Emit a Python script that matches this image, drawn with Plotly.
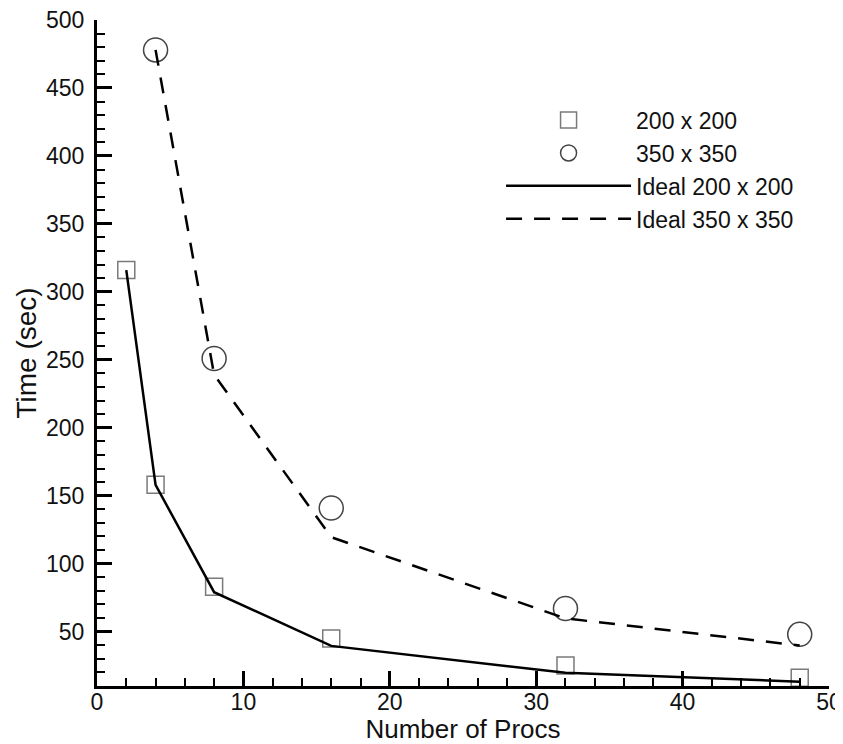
import plotly.graph_objects as go

# measured run times
procs_200 = [2, 4, 8, 16, 32, 48]
time_200 = [316, 158, 83, 45, 25, 16]
procs_350 = [4, 8, 16, 32, 48]
time_350 = [478, 251, 141, 67, 48]

# ideal scaling curves
ideal_procs_200 = [2, 4, 8, 16, 32, 48]
ideal_time_200 = [316, 158, 79, 39.5, 19.75, 13.2]
ideal_procs_350 = [4, 8, 16, 32, 48]
ideal_time_350 = [478, 239, 119.5, 59.75, 39.8]

font = "Liberation Sans, Arial, Helvetica, sans-serif"

fig = go.Figure()
fig.add_trace(go.Scatter(
    x=procs_200, y=time_200, mode="markers", name="200 x 200",
    marker=dict(symbol="square-open", size=17, color="#7a7a7a", line=dict(width=1.5)),
))
fig.add_trace(go.Scatter(
    x=procs_350, y=time_350, mode="markers", name="350 x 350",
    marker=dict(symbol="circle-open", size=24, color="#444444", line=dict(width=1.5)),
))
fig.add_trace(go.Scatter(
    x=ideal_procs_200, y=ideal_time_200, mode="lines", name="Ideal 200 x 200",
    line=dict(color="black", width=2.5),
))
fig.add_trace(go.Scatter(
    x=ideal_procs_350, y=ideal_time_350, mode="lines", name="Ideal 350 x 350",
    line=dict(color="black", width=2.5, dash="16px,12px"),
))

# page body adds ~8px offset, so the figure is slightly smaller than the window
fig.update_layout(
    width=835, height=736,
    margin=dict(l=89, r=14, t=12, b=58),
    plot_bgcolor="white", paper_bgcolor="white",
    font=dict(family=font, size=23, color="#111111"),
    showlegend=True,
    legend=dict(
        x=0.552, y=0.882, xanchor="left", yanchor="top",
        bgcolor="rgba(0,0,0,0)", font=dict(size=23),
        itemwidth=125, tracegroupgap=0,
    ),
)
fig.update_xaxes(
    range=[0, 50], dtick=10, tick0=0, automargin=False,
    showline=True, linewidth=3, linecolor="black",
    ticks="inside", ticklen=15, tickwidth=3, tickcolor="black",
    minor=dict(ticks="inside", dtick=2, ticklen=8, tickwidth=1.5, tickcolor="black"),
    showgrid=False, zeroline=False,
    title=dict(text="Number of Procs", font=dict(size=26), standoff=8),
    tickfont=dict(size=23), ticklabelstandoff=-7, ticklabeloverflow="allow",
)
fig.update_yaxes(
    range=[10, 500], dtick=50, tick0=0, automargin=False,
    showline=True, linewidth=3, linecolor="black",
    ticks="inside", ticklen=15, tickwidth=3, tickcolor="black",
    minor=dict(ticks="inside", dtick=10, ticklen=8, tickwidth=1.5, tickcolor="black"),
    showgrid=False, zeroline=False,
    title=dict(text="Time (sec)", font=dict(size=28), standoff=2),
    tickfont=dict(size=23), ticklabelstandoff=5, ticklabeloverflow="allow",
)

fig.write_html("out.html")
